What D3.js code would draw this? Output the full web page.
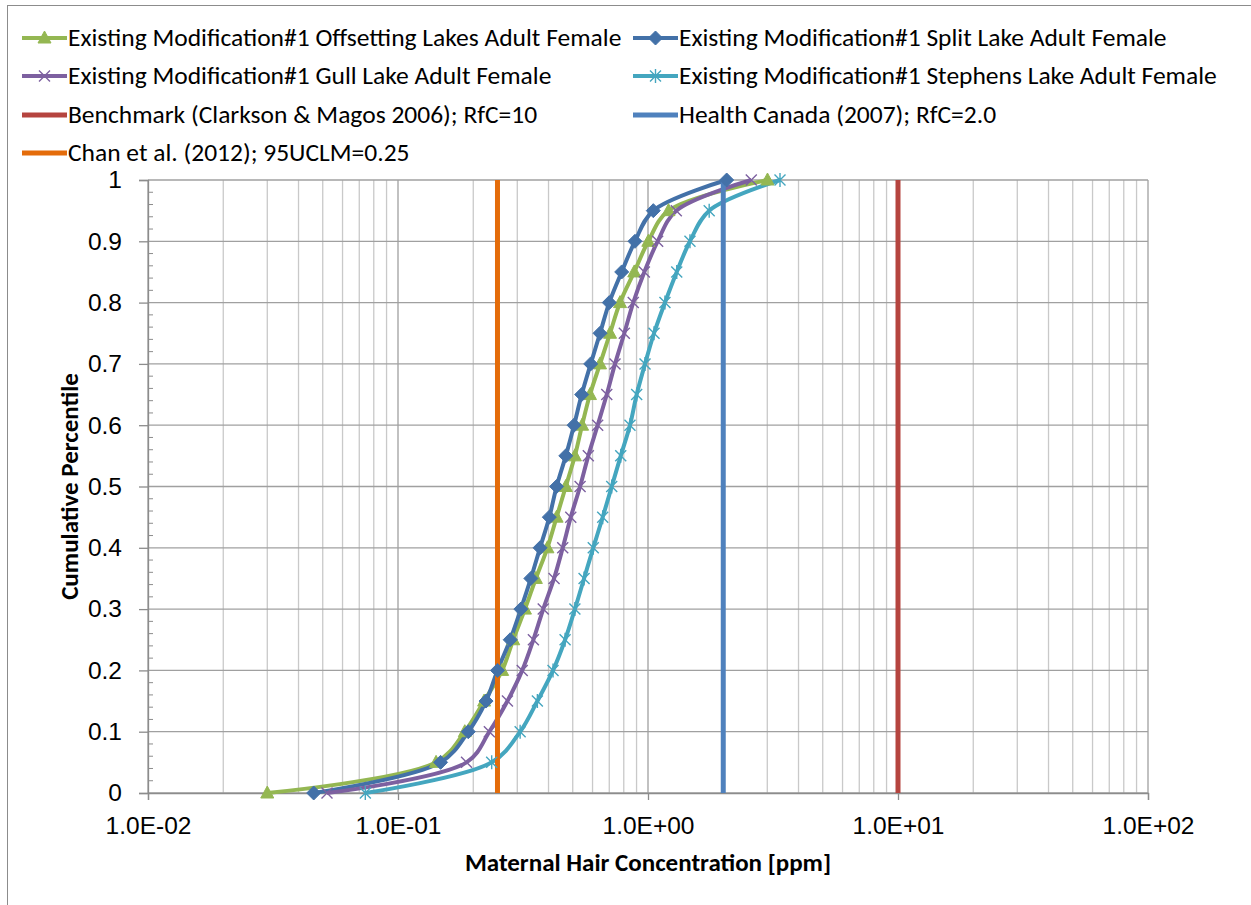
<!DOCTYPE html>
<html>
<head>
<meta charset="utf-8">
<script src="https://cdn.jsdelivr.net/npm/d3@7"></script>
<style>
  html, body { margin: 0; padding: 0; background: #fff; }
  svg { display: block; font-family: Carlito, Calibri, Lato, sans-serif; }
</style>
</head>
<body>
<div id="chart"></div>
<script>
// cumulative percentile levels (y) shared by all four series
const percentiles = [0, 0.05, 0.1, 0.15, 0.2, 0.25, 0.3, 0.35, 0.4, 0.45, 0.5,
                     0.55, 0.6, 0.65, 0.7, 0.75, 0.8, 0.85, 0.9, 0.95, 1];

// maternal hair concentration [ppm] at each percentile
const offsettingLakes = [0.030, 0.142, 0.185, 0.221, 0.261, 0.289, 0.322, 0.356, 0.396, 0.431, 0.469,
                         0.510, 0.545, 0.586, 0.643, 0.705, 0.773, 0.881, 1.003, 1.208, 3.006];
const splitLake = [0.046, 0.148, 0.191, 0.225, 0.250, 0.281, 0.310, 0.340, 0.370, 0.403, 0.431,
                   0.469, 0.506, 0.543, 0.590, 0.643, 0.700, 0.785, 0.887, 1.050, 2.064];
const gullLake = [0.052, 0.188, 0.232, 0.274, 0.314, 0.348, 0.381, 0.421, 0.456, 0.491, 0.535,
                  0.577, 0.629, 0.684, 0.738, 0.804, 0.873, 0.967, 1.093, 1.298, 2.589];
const stephensLake = [0.074, 0.237, 0.308, 0.361, 0.417, 0.466, 0.510, 0.555, 0.604, 0.659, 0.716,
                      0.778, 0.847, 0.901, 0.973, 1.057, 1.169, 1.303, 1.472, 1.757, 3.373];

// reference values
const refNames = ['Benchmark (Clarkson & Magos 2006); RfC=10', 'Health Canada (2007); RfC=2.0', 'Chan et al. (2012); 95UCLM=0.25'];
const refValues = [10, 2.0, 0.25];
const refColors = ['#B5443F', '#4F81BD', '#E46C0A'];

const seriesNames = [
    'Existing Modification#1 Offsetting Lakes Adult Female',
    'Existing Modification#1 Split Lake Adult Female',
    'Existing Modification#1 Gull Lake Adult Female',
    'Existing Modification#1 Stephens Lake Adult Female'
];
const seriesValues = [offsettingLakes, splitLake, gullLake, stephensLake];
const seriesColors = ['#94B752', '#4371A8', '#7D60A0', '#44A6BF'];
const seriesMarkers = ['triangle', 'diamond', 'x', 'star'];

const xTickValues = [0.01, 0.1, 1, 10, 100];
const xTickLabels = ['1.0E-02', '1.0E-01', '1.0E+00', '1.0E+01', '1.0E+02'];
const yTickValues = [0, 0.1, 0.2, 0.3, 0.4, 0.5, 0.6, 0.7, 0.8, 0.9, 1];

const width = 1251, height = 905;
const margin = {top: 180, right: 103, bottom: 112, left: 148};

const svg = d3.select('#chart').append('svg')
    .attr('width', width)
    .attr('height', height);

// chart border
svg.append('rect')
    .attr('x', 7.5).attr('y', 5.5)
    .attr('width', 1270).attr('height', 920)
    .attr('fill', 'none').attr('stroke', '#8c8c8c').attr('stroke-width', 1);

const x = d3.scaleLog()
    .domain([0.01, 100])
    .range([margin.left, width - margin.right]);
const y = d3.scaleLinear()
    .domain([0, 1])
    .range([height - margin.bottom, margin.top]);

// gridlines
const minorX = [];
[0.01, 0.1, 1, 10].forEach(d => { for (let k = 2; k <= 9; k++) minorX.push(d * k); });

const grid = svg.append('g');
grid.selectAll('.minor-x').data(minorX).join('line')
    .attr('x1', d => x(d)).attr('x2', d => x(d))
    .attr('y1', y(0)).attr('y2', y(1))
    .attr('stroke', '#c9c9c9').attr('stroke-width', 1.3);
grid.selectAll('.major-x').data(xTickValues).join('line')
    .attr('x1', d => x(d)).attr('x2', d => x(d))
    .attr('y1', y(0)).attr('y2', y(1))
    .attr('stroke', '#a0a0a0').attr('stroke-width', 1.3);
grid.selectAll('.major-y').data(yTickValues).join('line')
    .attr('x1', x(0.01)).attr('x2', x(100))
    .attr('y1', d => y(d)).attr('y2', d => y(d))
    .attr('stroke', '#a0a0a0').attr('stroke-width', 1.3);

// axes
const xAxis = d3.axisBottom(x)
    .tickValues(xTickValues)
    .tickFormat((d, i) => xTickLabels[i])
    .tickSize(7)
    .tickPadding(17);
const gx = svg.append('g')
    .attr('transform', `translate(0,${y(0)})`)
    .call(xAxis);
gx.select('.domain').attr('stroke', '#8c8c8c').attr('stroke-width', 1.3);
gx.selectAll('.tick line').attr('stroke', '#8c8c8c').attr('stroke-width', 1.3);
gx.selectAll('.tick text').attr('font-size', 24.5).attr('fill', '#000');

const yAxis = d3.axisLeft(y)
    .tickValues(yTickValues)
    .tickFormat(d3.format('~g'))
    .tickSize(9)
    .tickPadding(17);
const gy = svg.append('g')
    .attr('transform', `translate(${x(0.01)},0)`)
    .call(yAxis);
gy.select('.domain').attr('stroke', '#8c8c8c').attr('stroke-width', 1.3);
gy.selectAll('.tick line').attr('stroke', '#8c8c8c').attr('stroke-width', 1.3);
gy.selectAll('.tick text').attr('font-size', 24.5).attr('fill', '#000');

// y minor ticks every 0.02, inside the plot
const yMinor = d3.range(0, 51).map(i => i / 50).filter(d => Math.round(d * 50) % 5 !== 0);
gy.selectAll('.minor-tick').data(yMinor).join('line')
    .attr('x1', 0).attr('x2', 5)
    .attr('y1', d => y(d)).attr('y2', d => y(d))
    .attr('stroke', '#8c8c8c').attr('stroke-width', 1);

// axis titles
svg.append('text')
    .attr('x', (x(0.01) + x(100)) / 2).attr('y', 871)
    .attr('text-anchor', 'middle')
    .attr('font-size', 25).attr('font-weight', 'bold')
    .text('Maternal Hair Concentration [ppm]');
svg.append('text')
    .attr('transform', `translate(78,${(y(0) + y(1)) / 2}) rotate(-90)`)
    .attr('text-anchor', 'middle')
    .attr('font-size', 25).attr('font-weight', 'bold')
    .text('Cumulative Percentile');

// marker shapes
function markerPath(type) {
    if (type === 'triangle') return 'M0,-7L6.5,5L-6.5,5Z';
    if (type === 'diamond') return 'M0,-7L7,0L0,7L-7,0Z';
    if (type === 'x') return 'M-5.5,-5.5L5.5,5.5M-5.5,5.5L5.5,-5.5';
    return 'M-5.5,-5.5L5.5,5.5M-5.5,5.5L5.5,-5.5M0,-7L0,7';
}
function drawMarker(g, type, color) {
    const filled = type === 'triangle' || type === 'diamond';
    g.append('path')
        .attr('d', markerPath(type))
        .attr('fill', filled ? color : 'none')
        .attr('stroke', color)
        .attr('stroke-width', filled ? 1 : 1.4);
}

// smoothed lines (centripetal Catmull-Rom avoids kinks at the long first segment)
const line = d3.line()
    .x(d => x(d[0]))
    .y(d => y(d[1]))
    .curve(d3.curveCatmullRom.alpha(0.5));

// series lines
seriesValues.forEach((vals, i) => {
    const pts = vals.map((v, j) => [v, percentiles[j]]);
    svg.append('path')
        .datum(pts)
        .attr('d', line)
        .attr('fill', 'none')
        .attr('stroke', seriesColors[i])
        .attr('stroke-width', 4)
        .attr('stroke-linejoin', 'round');
});

// reference lines
refValues.forEach((v, i) => {
    svg.append('line')
        .attr('x1', x(v)).attr('x2', x(v))
        .attr('y1', y(0)).attr('y2', y(1))
        .attr('stroke', refColors[i])
        .attr('stroke-width', 5);
});

// series markers
seriesValues.forEach((vals, i) => {
    vals.forEach((v, j) => {
        const g = svg.append('g').attr('transform', `translate(${x(v)},${y(percentiles[j])})`);
        drawMarker(g, seriesMarkers[i], seriesColors[i]);
    });
});

// legend
const legendItems = [
    {name: seriesNames[0], color: seriesColors[0], marker: seriesMarkers[0], col: 0, row: 0},
    {name: seriesNames[1], color: seriesColors[1], marker: seriesMarkers[1], col: 1, row: 0},
    {name: seriesNames[2], color: seriesColors[2], marker: seriesMarkers[2], col: 0, row: 1},
    {name: seriesNames[3], color: seriesColors[3], marker: seriesMarkers[3], col: 1, row: 1},
    {name: refNames[0], color: refColors[0], marker: null, col: 0, row: 2},
    {name: refNames[1], color: refColors[1], marker: null, col: 1, row: 2},
    {name: refNames[2], color: refColors[2], marker: null, col: 0, row: 3}
];
const colX = [22, 633];
const rowY = [38, 76, 115, 153];
legendItems.forEach(item => {
    const g = svg.append('g').attr('transform', `translate(${colX[item.col]},${rowY[item.row]})`);
    g.append('line')
        .attr('x1', 0).attr('x2', 45)
        .attr('stroke', item.color)
        .attr('stroke-width', item.marker ? 4 : 5);
    if (item.marker) {
        const m = g.append('g').attr('transform', 'translate(22.5,0)');
        drawMarker(m, item.marker, item.color);
    }
    g.append('text')
        .attr('x', 46).attr('y', 8)
        .attr('font-size', 25.5)
        .attr('fill', '#000')
        .text(item.name);
});
</script>
</body>
</html>
